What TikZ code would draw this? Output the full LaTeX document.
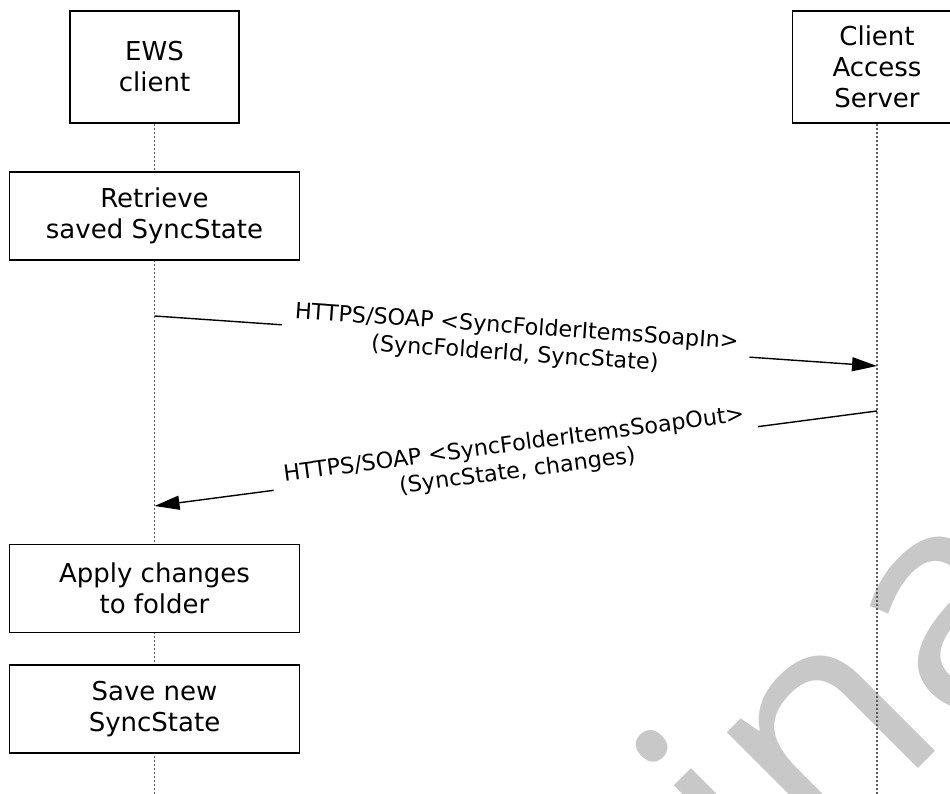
\documentclass[tikz,border=0pt]{standalone}
\usepackage{fontspec}
\setmainfont{DejaVu Sans}
\newfontfamily\wmfont{Open Sans}
\usetikzlibrary{arrows.meta}
\definecolor{wmgray}{RGB}{200,200,200}
\definecolor{lifegray}{RGB}{90,90,90}

\begin{document}
\begin{tikzpicture}[x=1pt,y=1pt,
        actor/.style={draw,fill=white,line width=1.4pt,minimum width=169pt,minimum height=112pt,
            align=center,font=\fontsize{26}{31}\selectfont},
        act/.style={actor,minimum width=290pt,minimum height=88pt},
        life/.style={draw=lifegray,line width=1.4pt,dash pattern=on 2pt off 2pt},
        msg/.style={line width=1.4pt,-{Triangle[length=25pt,width=14pt]}},
        msglabel/.style={sloped,fill=white,inner xsep=12pt,inner ysep=2pt,align=center,
            font=\fontsize{22.3}{27}\selectfont}]
    \useasboundingbox (0,0) rectangle (950,794);
    \clip (0,0) rectangle (950,794);

    \node[text=wmgray,rotate=45,anchor=base west,inner sep=0pt,
        font=\wmfont\fontsize{300}{300}\selectfont] (wm) at (769,-124) {\llap{Prelim}inary};

    \node[actor] (ews) at (154.5,727) {EWS\\client};
    \node[actor] (cas) at (877,727) {Client\\Access\\Server};
    \coordinate (ewsend) at (154.5,0);
    \coordinate (casend) at (877,0);
    \draw[life] (ews.south) -- (ewsend);
    \draw[life] (cas.south) -- (casend);

    \node[act] (retrieve) at (154.5,578) {Retrieve\\saved SyncState};
    \node[act] (apply) at (154.5,205.5) {Apply changes\\to folder};
    \node[act] (save) at (154.5,85) {Save new\\SyncState};

    \coordinate (reqfrom) at (154.5,478);
    \coordinate (reqto) at (877,428);
    \coordinate (respfrom) at (877,383);
    \coordinate (respto) at (154.5,288);

    \draw[msg] (reqfrom) -- node[msglabel] {HTTPS/SOAP <SyncFolderItemsSoapIn>\\(SyncFolderId, SyncState)} (reqto);
    \draw[msg] (respfrom) -- node[msglabel] {HTTPS/SOAP <SyncFolderItemsSoapOut>\\(SyncState, changes)} (respto);
\end{tikzpicture}
\end{document}
